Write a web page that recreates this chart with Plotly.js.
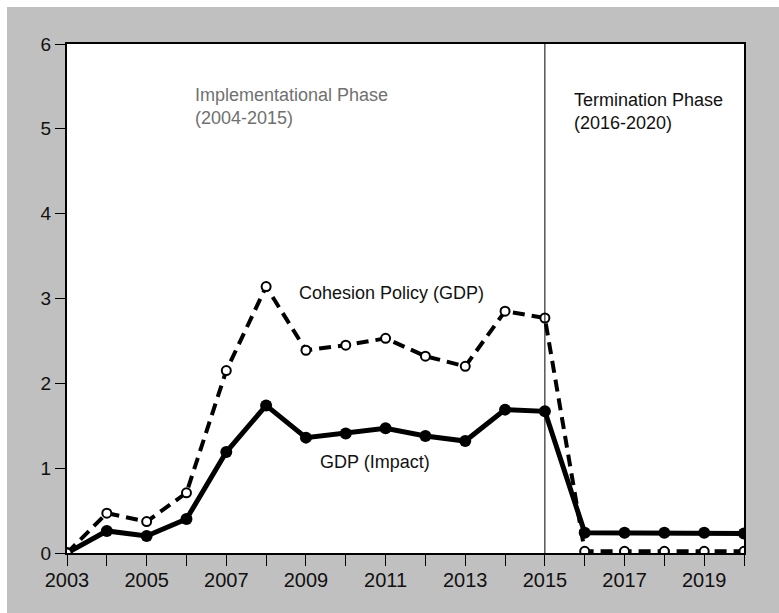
<!DOCTYPE html>
<html>
<head>
<meta charset="utf-8">
<script src="https://cdn.plot.ly/plotly-3.0.1.min.js"></script>
<style>
  html, body { margin: 0; padding: 0; background: #ffffff; width: 779px; height: 613px; overflow: hidden; }
  #chart { position: absolute; left: 7px; top: 7px; width: 772px; height: 606px; }
</style>
</head>
<body>
<div id="chart"></div>
<script>
const years = [2003, 2004, 2005, 2006, 2007, 2008, 2009, 2010, 2011, 2012, 2013, 2014, 2015, 2016, 2017, 2018, 2019, 2020];
const gdpImpact = [0, 0.26, 0.20, 0.40, 1.19, 1.74, 1.36, 1.41, 1.47, 1.38, 1.32, 1.69, 1.67, 0.24, 0.24, 0.24, 0.24, 0.23];
const cohesionGDP = [0, 0.47, 0.37, 0.71, 2.15, 3.14, 2.39, 2.45, 2.53, 2.32, 2.20, 2.85, 2.77, 0.02, 0.02, 0.02, 0.02, 0.02];
const xTickVals = years;
const xTickText = ["2003", "", "2005", "", "2007", "", "2009", "", "2011", "", "2013", "", "2015", "", "2017", "", "2019", ""];
const yTickVals = [0, 1, 2, 3, 4, 5, 6];
const dividerYear = 2015;

const font = "'Liberation Sans', Arial, sans-serif";

const traces = [
  {
    x: years, y: gdpImpact, type: 'scatter', mode: 'lines+markers', name: 'GDP (Impact)',
    line: { color: '#000000', width: 5 },
    marker: { color: '#000000', size: 12 }
  },
  {
    x: years, y: cohesionGDP, type: 'scatter', mode: 'lines+markers', name: 'Cohesion Policy (GDP)',
    line: { color: '#000000', width: 4, dash: '12px,7px' },
    marker: { color: '#ffffff', size: 9, line: { color: '#000000', width: 2 } }
  }
];

const layout = {
  width: 772, height: 606,
  margin: { l: 60, r: 35, t: 37, b: 60 },
  paper_bgcolor: '#c0c0c0',
  plot_bgcolor: '#ffffff',
  showlegend: false,
  font: { family: font, color: '#111111' },
  xaxis: {
    range: [2003, 2020],
    tickmode: 'array', tickvals: xTickVals, ticktext: xTickText,
    ticks: 'outside', ticklen: 11, tickwidth: 1, tickcolor: '#000000',
    ticklabelstandoff: -3,
    showgrid: false, zeroline: false,
    showline: true, linecolor: '#000000', linewidth: 2, mirror: true,
    tickfont: { size: 20, color: '#111111', family: font }
  },
  yaxis: {
    range: [0, 6],
    tickmode: 'array', tickvals: yTickVals,
    ticks: 'outside', ticklen: 10, tickwidth: 1, tickcolor: '#000000',
    showgrid: false, zeroline: false,
    showline: true, linecolor: '#000000', linewidth: 2, mirror: true,
    tickfont: { size: 19, color: '#111111', family: font }
  },
  shapes: [
    { type: 'line', xref: 'x', yref: 'paper', x0: dividerYear, x1: dividerYear, y0: 0, y1: 1,
      line: { color: '#000000', width: 1 } }
  ],
  annotations: [
    { text: 'Implementational Phase<br>(2004-2015)', x: 2006.16, y: 5.26, xref: 'x', yref: 'y',
      xanchor: 'left', yanchor: 'middle', align: 'left', showarrow: false,
      font: { size: 18, color: '#707070', family: font } },
    { text: 'Termination Phase<br>(2016-2020)', x: 2015.68, y: 5.21, xref: 'x', yref: 'y',
      xanchor: 'left', yanchor: 'middle', align: 'left', showarrow: false,
      font: { size: 18, color: '#111111', family: font } },
    { text: 'Cohesion Policy (GDP)', x: 2008.78, y: 3.065, xref: 'x', yref: 'y',
      xanchor: 'left', yanchor: 'middle', align: 'left', showarrow: false,
      font: { size: 18, color: '#111111', family: font } },
    { text: 'GDP (Impact)', x: 2009.30, y: 1.073, xref: 'x', yref: 'y',
      xanchor: 'left', yanchor: 'middle', align: 'left', showarrow: false,
      font: { size: 18, color: '#111111', family: font } }
  ]
};

Plotly.newPlot('chart', traces, layout, { displayModeBar: false, staticPlot: true });
</script>
</body>
</html>
